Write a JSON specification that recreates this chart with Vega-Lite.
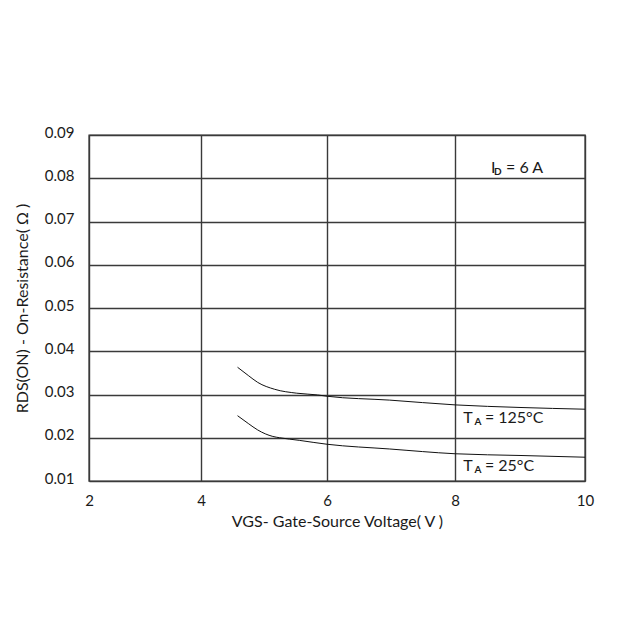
{
  "$schema": "https://vega.github.io/schema/vega-lite/v6.json",
  "width": 496,
  "height": 346,
  "autosize": {"type": "none"},
  "padding": {"left": 89, "top": 135, "right": 42, "bottom": 155},
  "background": "white",
  "config": {
    "font": "Lato",
    "view": {"stroke": "#3a3a3a", "strokeWidth": 1.4},
    "axis": {
      "grid": true,
      "gridColor": "#3a3a3a",
      "gridWidth": 1.4,
      "gridOpacity": 1,
      "domain": false,
      "ticks": false,
      "labelFlush": false,
      "labelFont": "Lato",
      "labelFontSize": 15,
      "labelColor": "#1a1a1a",
      "titleFont": "Lato",
      "titleFontSize": 16,
      "titleFontWeight": "normal",
      "titleColor": "#1a1a1a"
    }
  },
  "datasets": {
    "curves": [
      {"series": "125", "vgs": 4.58, "r": 0.0363},
      {"series": "125", "vgs": 4.75, "r": 0.0344},
      {"series": "125", "vgs": 4.90, "r": 0.0328},
      {"series": "125", "vgs": 5.17, "r": 0.0312},
      {"series": "125", "vgs": 5.52, "r": 0.0303},
      {"series": "125", "vgs": 5.85, "r": 0.0299},
      {"series": "125", "vgs": 6.00, "r": 0.0296},
      {"series": "125", "vgs": 6.98, "r": 0.0287},
      {"series": "125", "vgs": 8.00, "r": 0.0276},
      {"series": "125", "vgs": 9.00, "r": 0.0270},
      {"series": "125", "vgs": 10.00, "r": 0.0266},
      {"series": "25", "vgs": 4.58, "r": 0.0251},
      {"series": "25", "vgs": 4.75, "r": 0.0233},
      {"series": "25", "vgs": 4.90, "r": 0.0218},
      {"series": "25", "vgs": 5.14, "r": 0.0203},
      {"series": "25", "vgs": 5.25, "r": 0.0200},
      {"series": "25", "vgs": 5.56, "r": 0.0194},
      {"series": "25", "vgs": 6.00, "r": 0.0185},
      {"series": "25", "vgs": 6.98, "r": 0.0174},
      {"series": "25", "vgs": 8.00, "r": 0.0163},
      {"series": "25", "vgs": 9.00, "r": 0.0159},
      {"series": "25", "vgs": 10.00, "r": 0.0155}
    ],
    "notes": [
      {"kind": "main", "label": "I", "vgs": 8.554, "r": 0.0811},
      {"kind": "sub", "label": "D", "vgs": 8.60, "r": 0.0807},
      {"kind": "main", "label": "= 6 A", "vgs": 8.785, "r": 0.0811},
      {"kind": "main", "label": "T", "vgs": 8.128, "r": 0.02348},
      {"kind": "sub", "label": "A", "vgs": 8.30, "r": 0.0230},
      {"kind": "main", "label": "= 125°C", "vgs": 8.46, "r": 0.02348},
      {"kind": "main", "label": "T", "vgs": 8.128, "r": 0.01232},
      {"kind": "sub", "label": "A", "vgs": 8.30, "r": 0.01178},
      {"kind": "main", "label": "= 25°C", "vgs": 8.46, "r": 0.01232}
    ]
  },
  "encoding": {
    "x": {
      "field": "vgs",
      "type": "quantitative",
      "scale": {"domain": [2, 4, 6, 8, 10], "range": [0, 112, 238, 366, 496]},
      "axis": {
        "values": [2, 4, 6, 8, 10],
        "format": "d",
        "labelPadding": 12,
        "title": "VGS- Gate-Source Voltage( V )",
        "titlePadding": 5
      }
    },
    "y": {
      "field": "r",
      "type": "quantitative",
      "scale": {"domain": [0.01, 0.09], "nice": false, "zero": false},
      "axis": {
        "values": [0.01, 0.02, 0.03, 0.04, 0.05, 0.06, 0.07, 0.08, 0.09],
        "format": ".2f",
        "labelPadding": 15,
        "labelOffset": -3,
        "title": "RDS(ON) - On-Resistance( Ω )",
        "titlePadding": 14
      }
    }
  },
  "layer": [
    {
      "data": {"name": "curves"},
      "mark": {"type": "line", "interpolate": "monotone", "color": "#111", "strokeWidth": 1},
      "encoding": {"detail": {"field": "series"}}
    },
    {
      "data": {"name": "notes"},
      "transform": [{"filter": "datum.kind === 'main'"}],
      "mark": {"type": "text", "align": "left", "baseline": "alphabetic", "font": "Lato", "fontSize": 16, "color": "#1a1a1a"},
      "encoding": {"text": {"field": "label"}}
    },
    {
      "data": {"name": "notes"},
      "transform": [{"filter": "datum.kind === 'sub'"}],
      "mark": {"type": "text", "align": "left", "baseline": "alphabetic", "font": "Lato", "fontSize": 10, "fontWeight": "bold", "color": "#1a1a1a"},
      "encoding": {"text": {"field": "label"}}
    }
  ]
}
